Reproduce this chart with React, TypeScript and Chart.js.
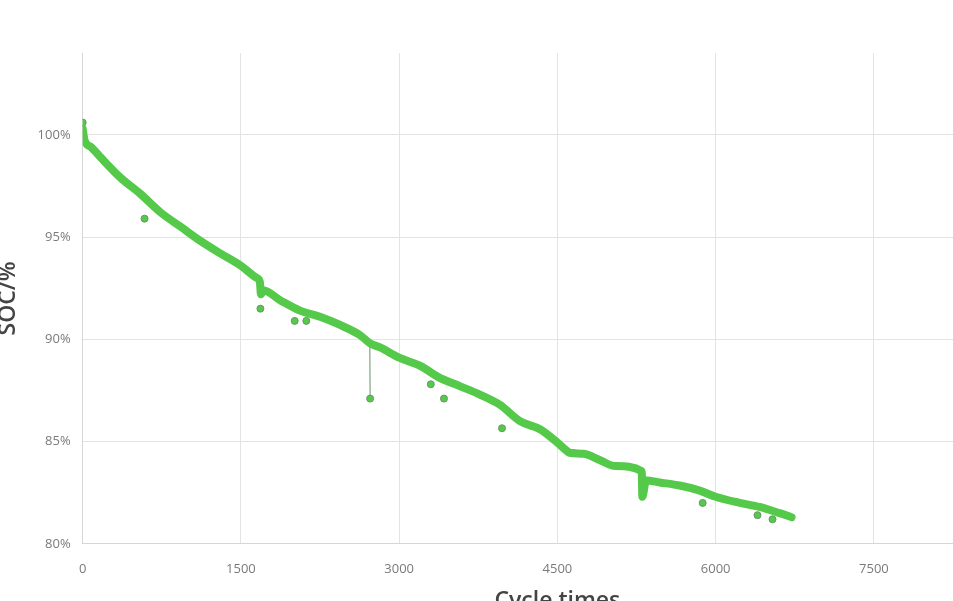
import React, { useEffect, useRef } from "react";
import { Chart, registerables } from "chart.js";

Chart.register(...registerables);

// Main SOC curve (cycle count, SOC %)
const mainCycles = [0, 20, 80, 170, 360, 550, 740, 930, 1120, 1305, 1500, 1650, 1680, 1690, 1710, 1875, 2060, 2250, 2440, 2630, 2725, 2820, 3000, 3200, 3390, 3580, 3765, 3955, 4145, 4335, 4500, 4600, 4615, 4750, 4900, 5050, 5300, 5305, 5340, 5470, 5660, 5850, 6000, 6230, 6415, 6605, 6720];
const mainSoc = [100.3, 99.7, 99.4, 98.9, 97.9, 97.1, 96.2, 95.5, 94.8, 94.2, 93.6, 93.0, 92.8, 92.2, 92.4, 91.9, 91.4, 91.1, 90.7, 90.2, 89.8, 89.6, 89.1, 88.7, 88.1, 87.7, 87.3, 86.8, 86.0, 85.6, 84.95, 84.5, 84.45, 84.4, 84.1, 83.8, 83.55, 82.3, 83.1, 83.0, 82.85, 82.6, 82.3, 82.0, 81.8, 81.5, 81.3];

// Isolated measurement points below the curve
const outlierCycles = [0, 587, 1685, 2010, 2120, 3300, 3425, 3975, 5877, 6397, 6539];
const outlierSoc = [100.6, 95.9, 91.5, 90.9, 90.9, 87.8, 87.1, 85.65, 82.0, 81.4, 81.2];

// Single sharp drop connected to the curve
const spikeCycles = [2722, 2725];
const spikeSoc = [89.7, 87.1];

const yMin = 80;
const yMax = 104;
const yStep = 5;
const xMin = 0;
const xMax = 9000;
const xStep = 1500;

const xTitle = "Cycle times";
const yTitle = "SOC/%";

const green = "#55c94a";

export default function App() {
  const canvasRef = useRef<HTMLCanvasElement | null>(null);

  useEffect(() => {
    if (!canvasRef.current) return;
    const toXY = (xs: number[], ys: number[]) => xs.map((x, i) => ({ x, y: ys[i] }));
    const chart = new Chart(canvasRef.current, {
      type: "line",
      data: {
        datasets: [
          {
            type: "line",
            data: toXY(mainCycles, mainSoc),
            borderColor: green,
            borderWidth: 8,
            borderCapStyle: "round",
            borderJoinStyle: "round",
            pointRadius: 0,
            cubicInterpolationMode: "monotone",
            fill: false,
          },
          {
            type: "line",
            data: toXY(spikeCycles, spikeSoc),
            borderColor: "#7fa57f",
            borderWidth: 1.2,
            pointRadius: [0, 3.5],
            pointBackgroundColor: green,
            pointBorderColor: "#6a956a",
            pointBorderWidth: 1,
            fill: false,
          },
          {
            type: "scatter",
            data: toXY(outlierCycles, outlierSoc),
            showLine: false,
            pointRadius: 3.5,
            pointBackgroundColor: green,
            pointBorderColor: "#6a956a",
            pointBorderWidth: 1,
          },
        ],
      } as any,
      options: {
        animation: false,
        responsive: true,
        maintainAspectRatio: false,
        layout: { padding: { top: 53, left: 0, right: 0, bottom: 0 } },
        plugins: { legend: { display: false }, tooltip: { enabled: false } },
        scales: {
          x: {
            type: "linear",
            min: xMin,
            max: xMax,
            ticks: {
              stepSize: xStep,
              padding: 18,
              color: "#7a7a7a",
              font: { family: "'Open Sans', sans-serif", size: 13 },
              callback: (v: any) => String(v),
            },
            grid: { color: "#e3e3e3", drawTicks: false },
            border: { color: "#d6d6d6" },
            title: {
              display: true,
              text: xTitle,
              color: "#444",
              font: { family: "'Open Sans', sans-serif", size: 23, weight: "600" },
              padding: { top: -8, bottom: 4 },
            },
          },
          y: {
            type: "linear",
            min: yMin,
            max: yMax,
            afterBuildTicks: (axis: any) => {
              axis.ticks = axis.ticks.filter((t: any) => t.value % yStep === 0);
            },
            ticks: {
              stepSize: yStep,
              padding: 12,
              color: "#7a7a7a",
              font: { family: "'Open Sans', sans-serif", size: 13 },
              callback: (v: any) => v + "%",
            },
            grid: { color: "#e3e3e3", drawTicks: false },
            border: { color: "#d6d6d6" },
            title: {
              display: true,
              text: yTitle,
              color: "#444",
              font: { family: "'Open Sans', sans-serif", size: 23, weight: "600" },
              padding: { top: 4, bottom: 3 },
            },
          },
        },
      } as any,
    });
    return () => chart.destroy();
  }, []);

  return (
    <div style={{ position: "fixed", left: 0, top: 0, width: 953, height: 601, overflow: "hidden", background: "#fff" }}>
      <div style={{ position: "absolute", left: -9, top: 0, width: 1074, height: 619 }}>
        <canvas ref={canvasRef} />
      </div>
    </div>
  );
}
